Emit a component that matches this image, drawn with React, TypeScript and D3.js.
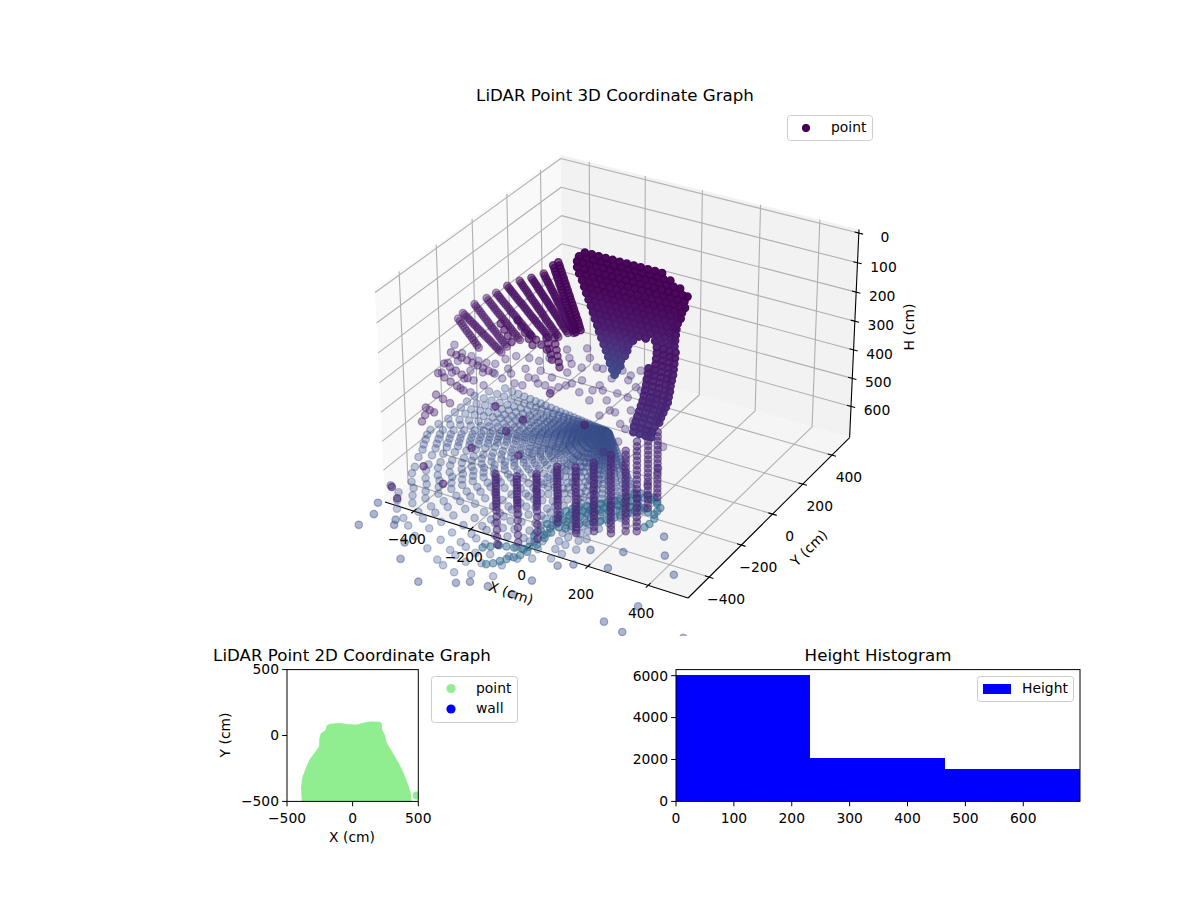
import * as React from 'react';
import * as d3 from 'd3';

// 3D axes limits and ticks
const xDomain = [-503, 530];
const yDomain = [-527, 524];
const hDomain = [712, -12];
const xTicks = [-400, -200, 0, 200, 400];
const yTicks = [-400, -200, 0, 200, 400];
const hTicks = [0, 100, 200, 300, 400, 500, 600];

// far wall, scanned row by row (one height, one depth, many x)
const wallY = 100;
const wallH = [60, 78, 96, 116, 136, 156, 176, 196, 216, 236, 256, 276, 296, 316, 336, 356, 376, 396, 416, 436, 452];
const wallShade = [0, 0, 0, 0, 0, 0.01, 0.01, 0.02, 0.03, 0.04, 0.05, 0.06, 0.07, 0.09, 0.11, 0.13, 0.15, 0.17, 0.19, 0.21, 0.23];
const wallX = [
    [-170, -146, -122, -98, -74, -50, -26, -2, 22, 46, 70, 94],
    [-190, -166, -142, -118, -94, -70, -46, -22, 2, 26, 50, 74, 98, 122],
    [-197, -178, -154, -130, -106, -82, -58, -34, -10, 14, 38, 62, 86, 110, 134, 155],
    [-197, -172, -148, -124, -100, -76, -52, -28, -4, 20, 44, 68, 92, 116, 140, 164, 180],
    [-190, -166, -142, -118, -94, -70, -46, -22, 2, 26, 50, 74, 98, 122, 146, 170],
    [-180, -156, -132, -108, -84, -60, -36, -12, 12, 36, 60, 84, 108, 132, 156, 172],
    [-173, -150, -126, -102, -78, -54, -30, -6, 18, 42, 66, 90, 114, 138, 162],
    [-166, -142, -118, -94, -70, -46, -22, 2, 26, 50, 74, 98, 122, 146, 158],
    [-158, -136, -112, -88, -64, -40, -16, 8, 32, 56, 80, 104, 128, 148],
    [-150, -128, -104, -80, -56, -32, -8, 16, 40, 64, 88, 112, 136, 144],
    [-143, -120, -96, -72, -48, -24, 0, 24, 48, 72, 96, 120, 142],
    [-136, -112, -88, -64, -40, -16, 8, 32, 56, 80, 104, 128, 140],
    [-128, -104, -80, -56, -32, -8, 16, 40, 72, 96, 120, 138],
    [-122, -98, -74, -50, -26, -4],
    [-114, -92, -68, -44, -20],
    [-106, -84, -60, -36, -24],
    [-98, -76, -54, -32],
    [-90, -68, -46],
    [-84, -64, -48],
    [-76, -60],
    [-68],
];

// right hand wall below the far wall
const sideH = [316, 336, 356, 376, 396, 416, 436, 456, 476, 496, 516, 536, 556, 576, 596, 616, 636];
const sideShade = [0.05, 0.05, 0.06, 0.06, 0.07, 0.07, 0.08, 0.08, 0.09, 0.09, 0.1, 0.1, 0.11, 0.11, 0.12, 0.12, 0.13];
const sideX = [
    [78, 100, 122, 142], [78, 100, 122, 140], [76, 98, 120, 138], [74, 96, 118, 136], [50, 72, 94, 116, 134],
    [48, 70, 92, 114, 130], [44, 66, 88, 110, 126], [42, 64, 86, 108, 124], [38, 60, 82, 104, 120], [34, 56, 78, 100, 117],
    [30, 52, 74, 96, 110], [24, 46, 68, 90, 102], [18, 40, 62, 84, 94], [12, 34, 56, 78, 88], [6, 28, 50, 72], [0, 22, 44, 64], [-2, 20, 40, 60],
];

// long sloping strands on the upper left
const strandX = [
    [-263, -259, -256, -252, -249, -245, -242, -238, -235, -231, -228, -224, -221, -217, -214, -210, -207, -203, -200, -196, -193, -190, -187],
    [-281, -277, -274, -270, -267, -263, -260, -256, -253, -249, -246, -242, -239, -235, -232, -228, -225, -221, -218, -214, -211, -207, -204],
    [-315, -311, -307, -303, -299, -295, -291, -287, -283, -279, -275, -271, -267, -263, -259, -255, -251, -247, -243, -239, -235, -231, -227, -223, -219, -215, -211],
    [-359, -354, -349, -344, -339, -335, -330, -325, -320, -315, -310, -305, -300, -296, -291, -286, -281, -276, -271, -266, -261, -257, -252, -247, -242, -237, -232],
    [-401, -396, -391, -386, -380, -375, -370, -365, -360, -355, -349, -344, -339, -334, -328, -323, -318, -313, -308, -303, -297, -292, -287, -282, -276, -271, -266],
    [-446, -440, -435, -430, -424, -419, -413, -408, -402, -396, -390, -385, -379, -374, -368, -363, -357, -352, -346, -341, -335, -329, -323, -318, -312, -307, -301],
    [-487, -481, -475, -470, -464, -458, -452, -446, -440, -435, -429, -423, -417, -412, -406, -400, -394, -388, -382, -377, -371, -365, -359],
    [-522, -516, -510, -504, -498, -493, -487, -481, -475, -469, -463, -457, -451, -445, -439, -434, -428, -422, -416, -410, -404],
    [-567, -562, -556, -550, -544, -539, -533, -527, -521, -516, -510, -505, -499, -493, -487, -482, -476, -470, -464, -459, -453],
    [-611, -605, -598, -592, -586, -580, -573, -567, -561, -555, -548, -542, -536, -530, -523, -517, -511, -505, -498, -492, -486, -480, -473],
    [-629, -623, -617, -611, -605, -599, -592, -586, -580, -574, -568, -562, -556],
    [-473, -460, -448, -435],
    [-411, -398, -385, -372, -359],
    [-366, -346, -327, -307],
    [-280, -277, -273, -270, -266, -263],
    [-308, -303, -299, -294, -290],
    [-660, -640, -621, -601, -581, -562, -542, -522],
    [-687, -666, -644, -622, -601],
    [-711, -688, -665, -641, -618],
    [-722, -696, -670],
    [-763, -748, -732],
    [-780, -767],
];
const strandH = [
    [117, 127, 136, 146, 156, 165, 175, 185, 194, 204, 214, 223, 233, 243, 252, 262, 272, 281, 291, 300, 310, 320, 330],
    [132, 141, 151, 160, 170, 179, 189, 198, 208, 217, 227, 236, 246, 255, 265, 274, 284, 293, 303, 312, 322, 331, 341],
    [169, 176, 183, 190, 196, 203, 210, 217, 223, 230, 237, 244, 251, 257, 264, 271, 278, 284, 291, 298, 305, 312, 319, 325, 332, 339, 346],
    [195, 201, 207, 213, 219, 225, 231, 237, 243, 249, 255, 261, 267, 273, 279, 285, 291, 297, 303, 309, 315, 322, 328, 334, 340, 346, 352],
    [217, 223, 229, 235, 241, 247, 253, 260, 266, 272, 278, 284, 290, 296, 302, 308, 314, 321, 327, 333, 339, 345, 351, 357, 363, 369, 375],
    [246, 252, 257, 262, 267, 273, 278, 284, 289, 294, 299, 305, 310, 316, 321, 327, 332, 337, 342, 348, 353, 359, 364, 369, 374, 380, 385],
    [281, 287, 292, 298, 303, 309, 314, 320, 325, 331, 336, 341, 346, 352, 357, 363, 368, 374, 379, 385, 390, 396, 401],
    [309, 315, 321, 327, 332, 338, 344, 350, 355, 361, 367, 373, 378, 384, 390, 396, 401, 407, 413, 419, 424],
    [342, 348, 354, 360, 366, 372, 378, 384, 390, 396, 402, 408, 413, 419, 425, 431, 437, 443, 449, 455, 461],
    [385, 390, 394, 399, 404, 408, 413, 417, 422, 427, 431, 436, 441, 445, 450, 454, 459, 464, 469, 473, 478, 482, 487],
    [410, 417, 424, 431, 438, 445, 452, 458, 465, 472, 479, 486, 493],
    [385, 403, 422, 440],
    [357, 375, 393, 411, 429],
    [395, 407, 419, 431],
    [383, 403, 423, 443, 463, 481],
    [390, 408, 426, 444, 462],
    [539, 543, 547, 551, 555, 559, 563, 567],
    [587, 594, 601, 609, 616],
    [629, 638, 647, 656, 665],
    [711, 719, 727],
    [770, 775, 779],
    [827, 799],
];
const strandShade = [0.01, 0.01, 0.02, 0.03, 0.03, 0.04, 0.05, 0.05, 0.06, 0.06, 0.06, 0.04, 0.04, 0.04, 0.04, 0.04, 0.08, 0.08, 0.08, 0.08, 0.08, 0.08];
const strandAlpha = [0.7, 0.7, 0.55, 0.55, 0.5, 0.5, 0.45, 0.42, 0.4, 0.4, 0.4, 0.6, 0.6, 0.6, 0.6, 0.6, 0.4, 0.4, 0.4, 0.4, 0.4, 0.4];

// floor fan: beam bearing (deg) and the ranges seen along it, from the hub
const fanHub = [-72, 67];
const fanH = 640;
const fanAngle = [170, 176, 182, 187, 192, 196, 201, 205, 209, 212, 215, 218, 221, 225, 230, 233, 237, 240, 243, 246, 250, 253, 257, 262, 266, 268, 271, 274, 278, 280, 283, 287, 289, 292, 294, 297, 300, 304, 308, 312];
const fanRange = [
    [6, 15, 23, 34, 44, 55, 68, 80, 93, 108, 122, 139, 156, 173, 192, 211, 232, 253, 274, 295, 317, 342, 367, 392, 422],
    [7, 16, 25, 36, 47, 59, 72, 86, 99, 115, 131, 149, 167, 185, 205, 225, 248, 270, 293, 315, 338, 365, 392, 419, 450],
    [7, 17, 26, 38, 50, 61, 76, 90, 104, 121, 137, 156, 175, 194, 215, 237, 260, 284, 307, 331, 355, 383, 412, 440, 473],
    [7, 17, 26, 38, 50, 62, 76, 91, 105, 122, 139, 158, 177, 196, 217, 239, 263, 287, 311, 335, 359, 387, 416, 445, 478],
    [7, 17, 26, 38, 51, 63, 77, 91, 106, 123, 139, 159, 178, 197, 219, 241, 265, 289, 313, 337, 361, 390, 418, 447, 481],
    [7, 17, 27, 39, 51, 64, 78, 93, 108, 125, 142, 162, 181, 201, 223, 245, 270, 294, 319, 343, 368, 397, 426, 456, 490],
    [8, 18, 28, 40, 53, 65, 80, 95, 110, 128, 145, 165, 185, 205, 228, 250, 275, 300, 325, 350, 375, 405, 435, 465, 500],
    [8, 18, 29, 42, 55, 68, 84, 100, 116, 134, 152, 173, 194, 215, 239, 263, 289, 315, 341, 368, 394, 425, 457, 488, 525],
    [8, 19, 30, 44, 57, 71, 87, 104, 120, 139, 158, 180, 202, 224, 248, 273, 300, 328, 355, 382, 410, 442, 475, 508, 546],
    [8, 19, 31, 44, 58, 72, 89, 105, 122, 142, 161, 183, 205, 228, 253, 278, 305, 333, 361, 389, 416, 450, 483, 516, 555],
    [8, 20, 31, 45, 59, 73, 90, 106, 123, 143, 162, 185, 207, 230, 255, 280, 308, 336, 364, 392, 420, 454, 487, 521, 560],
    [9, 20, 31, 45, 60, 74, 91, 108, 125, 145, 165, 187, 210, 233, 258, 284, 312, 341, 369, 398, 426, 460, 494, 528, 568],
    [9, 20, 32, 46, 60, 75, 92, 109, 127, 147, 167, 190, 213, 236, 262, 288, 316, 345, 374, 403, 431, 466, 500, 535, 575],
    [9, 21, 33, 48, 62, 77, 95, 113, 131, 152, 173, 196, 220, 244, 271, 298, 327, 357, 387, 417, 446, 482, 518, 553, 595],
    [9, 22, 34, 50, 65, 81, 99, 118, 136, 158, 180, 205, 229, 254, 282, 310, 341, 372, 403, 434, 465, 502, 539, 577, 620],
    [10, 22, 35, 51, 67, 83, 102, 122, 141, 163, 186, 211, 237, 262, 291, 320, 352, 384, 416, 448, 480, 518, 557, 595, 640],
    [10, 23, 36, 53, 69, 86, 106, 125, 145, 168, 191, 218, 244, 271, 300, 330, 363, 396, 429, 462, 495, 535, 574, 614, 660],
    [11, 25, 40, 58, 76, 94, 115, 137, 158, 184, 209, 238, 266, 295, 328, 360, 396, 432, 468, 504, 540, 583, 626, 670, 720],
    [11, 26, 41, 60, 78, 97, 119, 142, 164, 190, 216, 246, 276, 305, 339, 373, 410, 447, 484, 522, 559, 603, 648, 693, 745],
    [12, 27, 42, 62, 81, 100, 123, 146, 169, 196, 223, 254, 285, 316, 350, 385, 424, 462, 501, 539, 578, 624, 670, 716, 770],
    [12, 27, 43, 63, 82, 102, 126, 149, 173, 200, 228, 259, 290, 322, 357, 393, 432, 471, 510, 550, 589, 636, 683, 730, 785],
    [12, 28, 44, 64, 84, 104, 128, 152, 176, 204, 232, 264, 296, 328, 364, 400, 440, 480, 520, 560, 600, 648, 696, 744, 800],
    [12, 29, 45, 66, 87, 107, 132, 157, 182, 210, 239, 272, 305, 338, 375, 413, 454, 495, 536, 578, 619, 668, 718, 767, 825],
    [13, 30, 47, 68, 89, 111, 136, 162, 187, 217, 247, 281, 315, 349, 387, 425, 468, 510, 553, 595, 638, 689, 740, 791, 850],
    [13, 31, 48, 70, 92, 114, 141, 167, 194, 224, 255, 290, 326, 361, 400, 440, 484, 528, 572, 616, 660, 713, 766, 818, 880],
    [13, 31, 49, 72, 94, 116, 143, 170, 197, 228, 260, 295, 331, 367, 407, 448, 492, 537, 582, 627, 671, 725, 779, 832, 895],
    [14, 32, 50, 73, 96, 118, 146, 173, 200, 232, 264, 300, 337, 373, 414, 455, 501, 546, 592, 637, 683, 737, 792, 846, 910],
    [13, 31, 49, 72, 94, 116, 143, 170, 197, 228, 260, 295, 331, 367, 407, 448, 492, 537, 582, 627, 671, 725, 779, 832, 895],
    [13, 31, 48, 70, 92, 114, 141, 167, 194, 224, 255, 290, 326, 361, 400, 440, 484, 528, 572, 616, 660, 713, 766, 818, 880],
    [12, 27, 42, 62, 81, 100, 123, 146, 169, 196, 223, 254, 285, 316, 350, 385, 424, 462, 501, 539, 578, 624, 670, 716, 770],
    [11, 26, 42, 60, 79, 98, 121, 143, 166, 193, 219, 249, 279, 310, 344, 378, 415, 453, 491, 529, 566, 612, 657, 702, 755],
    [11, 26, 41, 59, 78, 96, 118, 141, 163, 189, 215, 244, 274, 303, 337, 370, 407, 444, 481, 518, 555, 599, 644, 688, 740],
    [11, 25, 39, 57, 75, 92, 114, 135, 156, 181, 206, 234, 263, 291, 323, 355, 391, 426, 462, 497, 533, 575, 618, 660, 710],
    [10, 24, 37, 54, 71, 88, 109, 129, 150, 173, 197, 224, 252, 279, 309, 340, 374, 408, 442, 476, 510, 551, 592, 632, 680],
    [9, 22, 34, 50, 65, 81, 99, 118, 136, 158, 180, 205, 229, 254, 282, 310, 341, 372, 403, 434, 465, 502, 539, 577, 620],
    [8, 20, 31, 45, 59, 73, 90, 106, 123, 143, 162, 185, 207, 230, 255, 280, 308, 336, 364, 392, 420, 454, 487, 521, 560],
    [8, 19, 29, 42, 56, 69, 85, 101, 117, 135, 154, 175, 196, 217, 241, 265, 292, 318, 345, 371, 398, 429, 461, 493, 530],
    [8, 18, 28, 40, 53, 65, 80, 95, 110, 128, 145, 165, 185, 205, 228, 250, 275, 300, 325, 350, 375, 405, 435, 465, 500],
    [7, 17, 26, 38, 50, 62, 76, 90, 105, 121, 138, 157, 176, 195, 216, 238, 261, 285, 309, 333, 356, 385, 413, 442, 475],
    [7, 16, 25, 36, 47, 59, 72, 86, 99, 115, 131, 149, 167, 185, 205, 225, 248, 270, 293, 315, 338, 365, 392, 419, 450],
];

// loose points between the wall and the floor fan
const ringH = 350;
const ringX = [-488, -440, -406, -372, -345, -319, -308, -290, -250, -215, -198, -179, -146, -122, -84, -130, -93, -45, -26, -44, 13, 39, 79, 85, 123, 114, 124, 169, 181, 246, 224, -270, -289, -247, -225, -180, -130, -106, -61, -83, -123, -170, -190, -207, 192, 249, 136, 74, 116, 105,
    -361, -351, -321, -323, -297, -425, -445, -428, -402, -329, -291, -280, -254, -181, -147, -92, -70, -15, 35, 16, 26, 30, 66, 77, 109, 190, 210, 204, 135, 208, 280, 351, 397, 415, 226, 219];
const ringY = [-142, -175, -176, -191, -189, -181, -140, -108, -98, -99, -67, 5, -37, -65, -70, 42, -6, -47, -44, -137, -173, -158, -204, -152, -157, -92, -38, -220, -304, -293, -236, -187, -233, -208, -161, -148, -167, -118, -168, -208, -218, -197, -202, -254, -137, -208, -101, -67, -251, -292,
    -254, -304, -300, -245, -230, -222, -247, -307, -292, -360, -365, -310, -247, -252, -219, -235, -187, -203, -230, -136, -82, -24, -38, 3, 9, -104, -182, -269, -253, -322, -293, -356, -468, -561, -395, -468];
const dotX = [-184, -86, -74, -82, 95, -81, -117, 20, -180, -195, -149];
const dotY = [-399, -252, -426, -506, -361, -846, -638, -606, -793, -933, -976];

// teal band on the floor
const bandH = 690;
const bandX = [-1, 0, -2, 2, 6, 10, 19, 32, 47, 62, 78, 90, 104, 113, 126, 138, 151, 175, 197, 222, 243, 256, 258, 254,
    31, 31, 32, 36, 40, 49, 61, 74, 89, 104, 120, 135, 147, 163, 178, 202,
    57, 66, 79, 94, 109, 125, 137, 151, 160, 173, 185, 198, 222, 244,
    20, 18, 22, 26, 30, 39, 52, 67, 82, 98, 110, 124, 133, 146, 158, 171, 195, 217, 242,
    -98, -81, -64, -41, -18, 5, 17, 16, -42, -27, -16, -5, 7, 18, 26];
const bandY = [-493, -458, -418, -388, -357, -327, -308, -287, -270, -255, -239, -225, -203, -184, -163, -141, -127, -126, -128, -154, -190, -232, -265, -288,
    -531, -488, -453, -416, -379, -353, -332, -311, -295, -279, -262, -247, -226, -210, -193, -194,
    -410, -391, -370, -353, -338, -322, -308, -286, -267, -246, -224, -210, -209, -211,
    -474, -434, -404, -373, -343, -324, -303, -286, -271, -255, -241, -219, -200, -179, -157, -143, -142, -144, -170,
    -624, -608, -590, -584, -578, -571, -552, -520, -695, -681, -661, -642, -623, -604, -578];

// upright columns near the front
const columnX = [-28, 18, 57, 62, 138, 177, 225, 256, 284, 317, 326];
const columnY = [-654, -614, -570, -463, -487, -451, -436, -404, -388, -382, -342];
const columnH = [
    [402, 412, 422, 432, 442, 452, 462, 472, 482, 492, 502, 512, 525, 545, 565, 590, 615, 640],
    [416, 426, 436, 446, 456, 466, 476, 486, 496, 506, 516, 526, 545, 565, 590, 615, 640],
    [419, 429, 439, 449, 459, 469, 479, 489, 499, 509, 519, 529, 545, 565, 590, 615, 640],
    [449, 459, 469, 479, 489, 499, 509, 519, 529, 539, 549, 559, 569, 582, 597, 612, 626, 640],
    [416, 428, 440, 452, 464, 476, 488, 500, 512, 524, 536, 548, 560, 572, 584, 596, 608, 620, 630, 640],
    [406, 418, 430, 442, 454, 466, 478, 490, 502, 514, 526, 538, 550, 562, 574, 586, 598, 610, 625, 640],
    [374, 388, 402, 416, 430, 444, 458, 472, 486, 500, 514, 528, 542, 556, 570, 584, 598, 612, 626, 640],
    [367, 381, 395, 409, 423, 437, 451, 465, 479, 493, 507, 521, 535, 549, 563, 577, 591, 605, 619, 640],
    [336, 352, 368, 384, 400, 416, 432, 448, 464, 480, 496, 512, 528, 544, 560, 576, 592, 608, 624, 640],
    [299, 314, 329, 344, 359, 374, 389, 404, 419, 434, 449, 464, 479, 494, 509, 524, 539, 554],
    [315, 330, 345, 360, 375, 390, 405, 420, 435, 450, 460, 475, 490, 505, 520, 535],
];

// far scattered returns
const strayX = [-432, -427, -452, -474, -355, -343, -226, -264, -117, -22, 9, 65, 148, 157, 180, 216, 219, 310, 306, 367, 418, 489, 481, 437, 506, 665];
const strayY = [-768, -696, -637, -535, -690, -716, -861, -781, -936, -887, -862, -856, -856, -768, -664, -636, -544, -602, -506, -374, -462, -538, -731, -846, -865, -805];

// 2D footprint
const topX = [-388, -393, -383, -355, -325, -287, -256, -254, -244, -206, -198, -173, -96, -33, 30, 81, 132, 208, 221, 226, 249, 254, 272, 310, 348, 386, 416, 442, 449];
const topY = [-500, -392, -316, -240, -177, -127, -84, -25, 13, 43, 76, 89, 94, 86, 84, 96, 106, 104, 89, 38, 0, -38, -76, -139, -203, -278, -354, -430, -500];
const strayTopX = [487];
const strayTopY = [-456];
const planTicks = [-500, 0, 500];

// histogram
const histEdges = [0, 232, 465, 698];
const histCounts = [6040, 2060, 1530];
const histXTicks = [0, 100, 200, 300, 400, 500, 600];
const histYTicks = [0, 2000, 4000, 6000];

const sx = d3.scaleLinear().domain(xDomain).range([0, 1.143]);
const sy = d3.scaleLinear().domain(yDomain).range([0, 1.143]);
const sh = d3.scaleLinear().domain(hDomain).range([0, 0.82]);
const az = -60 * Math.PI / 180;
const el = 30 * Math.PI / 180;
const n = [Math.cos(el) * Math.cos(az), Math.cos(el) * Math.sin(az), Math.sin(el)];
const c = [0.5715, 0.5715, 0.41];
const eye = [c[0] + 10 * n[0], c[1] + 10 * n[1], c[2] + 10 * n[2]];
const ul = Math.hypot(n[1], n[0]);
const u = [-n[1] / ul, n[0] / ul, 0];
const v = [n[1] * u[2] - n[2] * u[1], n[2] * u[0] - n[0] * u[2], n[0] * u[1] - n[1] * u[0]];
function cam(x: number, y: number, h: number) {
    const d = [sx(x) - eye[0], sy(y) - eye[1], sh(h) - eye[2]];
    const depth = -(d[0] * n[0] + d[1] * n[1] + d[2] * n[2]);
    return [(d[0] * u[0] + d[1] * u[1]) / depth, (d[0] * v[0] + d[1] * v[1] + d[2] * v[2]) / depth];
}
const px = d3.scaleLinear()
    .domain([cam(xDomain[0], yDomain[0], hDomain[0])[0], cam(xDomain[1], yDomain[1], hDomain[1])[0]])
    .range([385, 859]);
const py = d3.scaleLinear()
    .domain([cam(xDomain[1], yDomain[0], hDomain[0])[1], cam(xDomain[0], yDomain[1], hDomain[1])[1]])
    .range([598, 155]);
function project(x: number, y: number, h: number): [number, number] {
    const p = cam(x, y, h);
    return [px(p[0]), py(p[1])];
}
const seg = (a: [number, number], b: [number, number]) => `M${a[0]},${a[1]}L${b[0]},${b[1]}`;
const label = (t: number) => String(t).replace('-', '\u2212');
const viridis = d3.scaleSequential(d3.interpolateViridis).domain([0, 1]);

type Dot = {x: number; y: number; h: number; shade: number; alpha: number};
const dots: Dot[] = [];
fanAngle.forEach((a, i) => fanRange[i].forEach(r => dots.push({
    x: fanHub[0] + r * Math.cos(a * Math.PI / 180),
    y: fanHub[1] + r * Math.sin(a * Math.PI / 180),
    h: fanH, shade: 0.25, alpha: 0.32,
})));
strayX.forEach((x, i) => dots.push({x, y: strayY[i], h: fanH, shade: 0.25, alpha: 0.42}));
ringX.forEach((x, i) => dots.push({x, y: ringY[i], h: ringH, shade: 0.14, alpha: 0.34}));
bandX.forEach((x, i) => dots.push({x, y: bandY[i], h: bandH, shade: 0.35, alpha: 0.5}));
columnX.forEach((x, i) => columnH[i].forEach(h => dots.push({x, y: columnY[i], h, shade: 0.11, alpha: 0.5})));
dotX.forEach((x, i) => dots.push({x, y: dotY[i], h: ringH, shade: 0.08, alpha: 0.55}));
strandX.forEach((row, i) => row.forEach((x, j) => dots.push({x, y: wallY, h: strandH[i][j], shade: strandShade[i], alpha: strandAlpha[i]})));
sideX.forEach((row, i) => row.forEach(x => dots.push({x, y: wallY, h: sideH[i], shade: sideShade[i], alpha: 0.92})));
wallX.forEach((row, i) => row.forEach(x => dots.push({x, y: wallY, h: wallH[i], shade: wallShade[i], alpha: 0.97})));

// lower axes
const planLeft = 287, planRight = 418.3, lowTop = 669.6, lowBottom = 801.4;
const planX = d3.scaleLinear().domain([-500, 500]).range([planLeft, planRight]);
const planY = d3.scaleLinear().domain([-500, 500]).range([lowBottom, lowTop]);
const topArea = d3.area<number>().x((_, i) => planX(topX[i])).y0(planY(-500)).y1((_, i) => planY(topY[i]));
const histLeft = 676, histRight = 1080;
const histX = d3.scaleLinear().domain([0, 698]).range([histLeft, histRight]);
const histY = d3.scaleLinear().domain([0, 6290]).range([lowBottom, lowTop]);

const font = 13.89;

export default function App() {
    const [x0, x1] = xDomain;
    const [y0, y1] = yDomain;
    const [h0, h1] = hDomain;
    const pane = (pts: [number, number, number][], fill: string) =>
        <polygon points={pts.map(p => project(p[0], p[1], p[2]).join(',')).join(' ')} fill={fill} />;
    return (
        <svg width={1200} height={900} style={{position: 'absolute', left: 0, top: 0}} fontFamily="DejaVu Sans" fontSize={font}>
            <defs>
                <clipPath id="cube"><rect x={0} y={0} width={1200} height={636} /></clipPath>
                <clipPath id="plan"><rect x={planLeft} y={lowTop} width={planRight - planLeft} height={lowBottom - lowTop} /></clipPath>
            </defs>
            <text x={615} y={101} fontSize={16.67} textAnchor="middle">LiDAR Point 3D Coordinate Graph</text>
            {pane([[x0, y0, h0], [x0, y1, h0], [x0, y1, h1], [x0, y0, h1]], '#f9f9f9')}
            {pane([[x0, y1, h0], [x1, y1, h0], [x1, y1, h1], [x0, y1, h1]], '#f2f2f2')}
            {pane([[x0, y0, h0], [x1, y0, h0], [x1, y1, h0], [x0, y1, h0]], '#f5f5f5')}
            <g stroke="#b0b0b0" fill="none" strokeWidth={1.1}>
                {xTicks.map(t => <path key={t} d={seg(project(t, y0, h0), project(t, y1, h0)) + seg(project(t, y1, h0), project(t, y1, h1))} />)}
                {yTicks.map(t => <path key={t} d={seg(project(x1, t, h0), project(x0, t, h0)) + seg(project(x0, t, h0), project(x0, t, h1))} />)}
                {hTicks.map(t => <path key={t} d={seg(project(x0, y0, t), project(x0, y1, t)) + seg(project(x0, y1, t), project(x1, y1, t))} />)}
            </g>
            <g stroke="#000" fill="none" strokeWidth={1.1}>
                <path d={seg(project(x0, y0, h0), project(x1, y0, h0))} />
                <path d={seg(project(x1, y0, h0), project(x1, y1, h0))} />
                <path d={seg(project(x1, y1, h0), project(x1, y1, h1))} />
                {xTicks.map(t => <path key={t} d={seg(project(t, y0 - 14, h0), project(t, y0 + 14, h0))} />)}
                {yTicks.map(t => <path key={t} d={seg(project(x1 - 14, t, h0), project(x1 + 14, t, h0))} />)}
                {hTicks.map(t => <path key={t} d={seg(project(x1 - 14, y1, t), project(x1 + 14, y1, t))} />)}
            </g>
            <g clipPath="url(#cube)">
                {dots.map((d, i) => {
                    const p = project(d.x, d.y, d.h);
                    const col = viridis(d.shade);
                    return <circle key={i} cx={p[0]} cy={p[1]} r={3.7} fill={col} stroke={col} strokeWidth={1.3} fillOpacity={d.alpha} strokeOpacity={d.alpha} />;
                })}
            </g>
            {xTicks.map(t => {
                const p = project(t, y0, h0);
                return <text key={t} x={p[0] - 7} y={p[1] + 28} dy="0.35em" textAnchor="middle">{label(t)}</text>;
            })}
            {yTicks.map(t => {
                const p = project(x1, t, h0);
                return <text key={t} x={p[0] + 17} y={p[1] + 22} dy="0.35em" textAnchor="middle">{label(t)}</text>;
            })}
            {hTicks.map(t => {
                const p = project(x1, y1, t);
                return <text key={t} x={p[0] + 26} y={p[1] + 4} dy="0.35em" textAnchor="middle">{label(t)}</text>;
            })}
            <text transform="translate(511,593) rotate(18)" dy="0.35em" textAnchor="middle">X (cm)</text>
            <text transform="translate(809,548) rotate(-45)" dy="0.35em" textAnchor="middle">Y (cm)</text>
            <text transform="translate(909,327) rotate(-90)" dy="0.35em" textAnchor="middle">H (cm)</text>
            <g>
                <rect x={787.5} y={115.5} width={85} height={25} rx={3} fill="#fff" fillOpacity={0.8} stroke="#ccc" />
                <circle cx={806} cy={128} r={3.7} fill="#440154" stroke="#440154" />
                <text x={831} y={127.5} dy="0.35em">point</text>
            </g>

            <text x={352} y={660.5} fontSize={16.67} textAnchor="middle">LiDAR Point 2D Coordinate Graph</text>
            <g clipPath="url(#plan)">
                <path d={topArea(topX) ?? ''} fill="#90ee90" />
                {strayTopX.map((x, i) => <circle key={i} cx={planX(x)} cy={planY(strayTopY[i])} r={4} fill="#90ee90" />)}
            </g>
            <rect x={planLeft} y={lowTop} width={planRight - planLeft} height={lowBottom - lowTop} fill="none" stroke="#000" />
            {planTicks.map(t => (
                <g key={t}>
                    <path d={`M${planX(t)},${lowBottom}v4.9`} stroke="#000" />
                    <text x={planX(t)} y={lowBottom + 17} textAnchor="middle" dy="0.35em">{label(t)}</text>
                    <path d={`M${planLeft},${planY(t)}h-4.9`} stroke="#000" />
                    <text x={planLeft - 8} y={planY(t)} textAnchor="end" dy="0.35em">{label(t)}</text>
                </g>
            ))}
            <text x={352} y={837} textAnchor="middle" dy="0.35em">X (cm)</text>
            <text transform="translate(225,735) rotate(-90)" textAnchor="middle" dy="0.35em">Y (cm)</text>
            <g>
                <rect x={431.5} y={676.5} width={86} height={46} rx={3} fill="#fff" fillOpacity={0.8} stroke="#ccc" />
                <circle cx={451} cy={688.5} r={4.6} fill="#90ee90" />
                <circle cx={451} cy={709} r={4.6} fill="#0000ff" />
                <text x={476} y={688} dy="0.35em">point</text>
                <text x={476} y={708.5} dy="0.35em">wall</text>
            </g>

            <text x={878} y={660.5} fontSize={16.67} textAnchor="middle">Height Histogram</text>
            {histCounts.map((v2, i) => (
                <rect key={i} x={histX(histEdges[i])} y={histY(v2)} width={histX(histEdges[i + 1]) - histX(histEdges[i])} height={lowBottom - histY(v2)} fill="#0000ff" shapeRendering="crispEdges" />
            ))}
            <rect x={histLeft} y={lowTop} width={histRight - histLeft} height={lowBottom - lowTop} fill="none" stroke="#000" />
            {histXTicks.map(t => (
                <g key={t}>
                    <path d={`M${histX(t)},${lowBottom}v4.9`} stroke="#000" />
                    <text x={histX(t)} y={lowBottom + 17} textAnchor="middle" dy="0.35em">{t}</text>
                </g>
            ))}
            {histYTicks.map(t => (
                <g key={t}>
                    <path d={`M${histLeft},${histY(t)}h-4.9`} stroke="#000" />
                    <text x={histLeft - 8} y={histY(t)} textAnchor="end" dy="0.35em">{t}</text>
                </g>
            ))}
            <g>
                <rect x={977.5} y={676.5} width={96} height={25} rx={3} fill="#fff" fillOpacity={0.8} stroke="#ccc" />
                <rect x={983} y={684} width={28} height={10} fill="#0000ff" />
                <text x={1022} y={688} dy="0.35em">Height</text>
            </g>
        </svg>
    );
}
